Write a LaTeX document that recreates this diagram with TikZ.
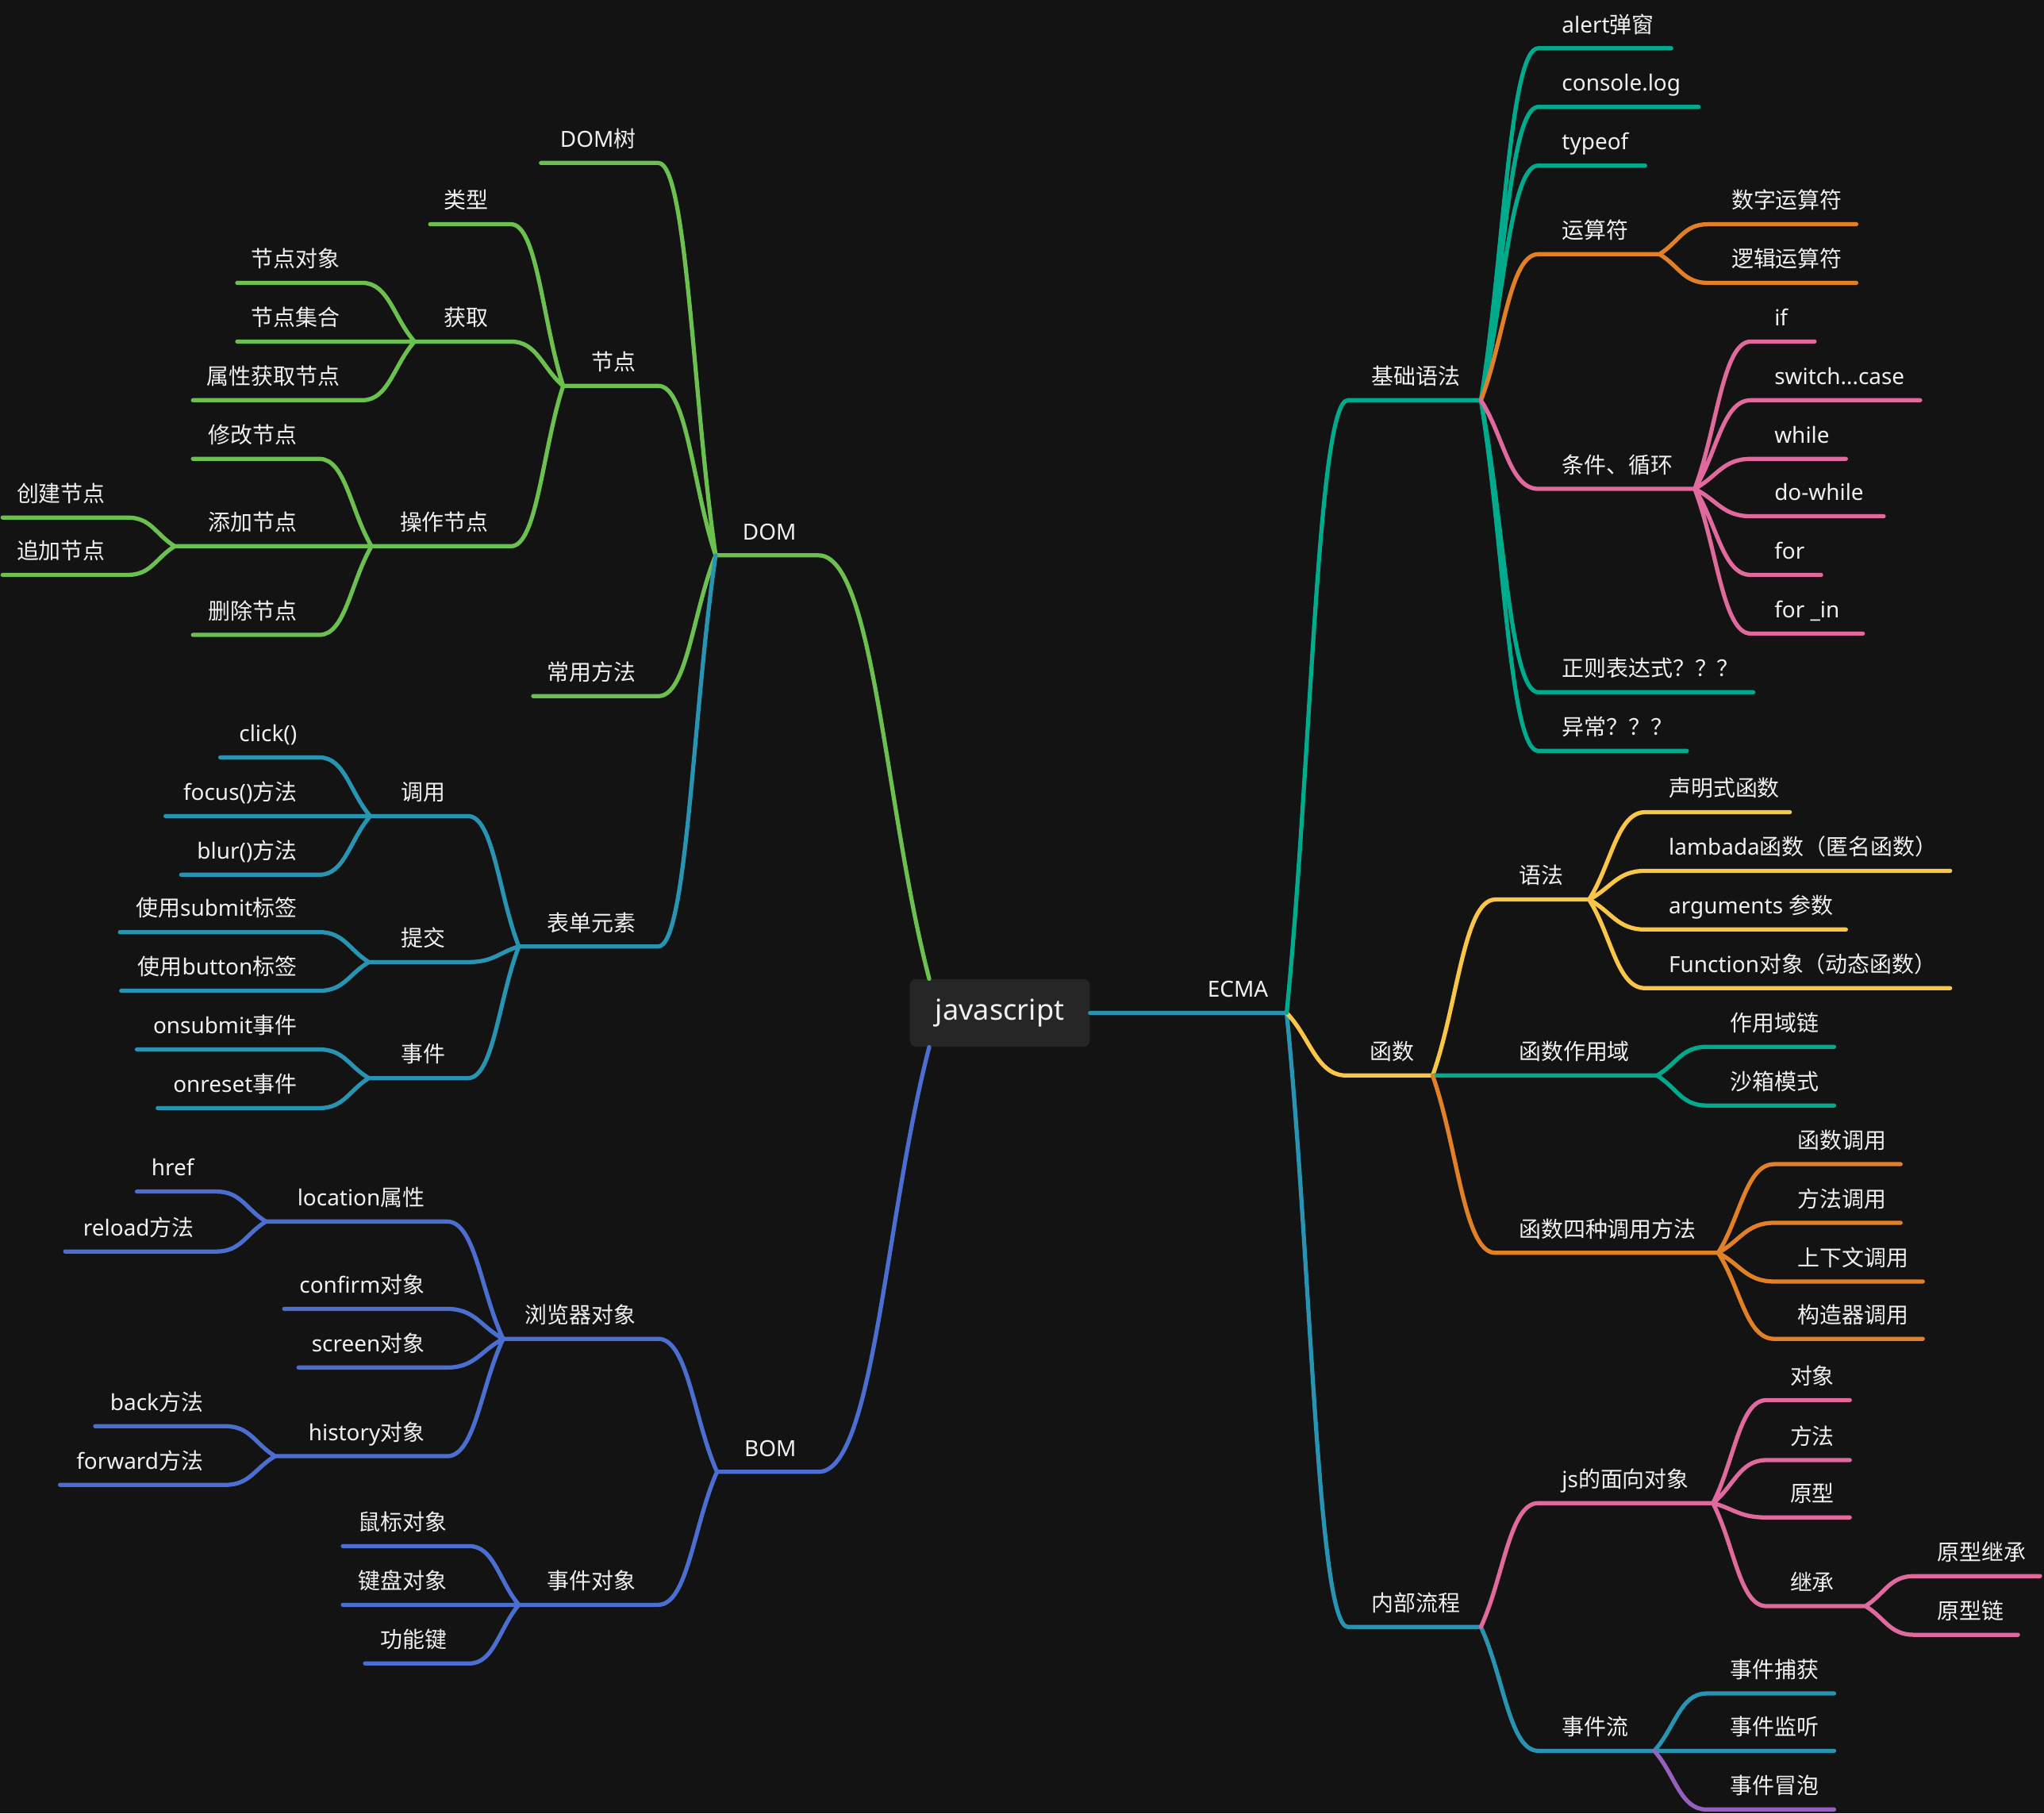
\documentclass[tikz,border=0pt]{standalone}
\usepackage{fontspec}
\setmainfont{Noto Sans}
\newfontfamily\cjkfont{Noto Sans CJK SC}
\usetikzlibrary{calc}

% Chinese characters switch to the CJK font on their own
\newXeTeXintercharclass\cjkclass
\newcount\cjkcode
\newcommand\cjkrange[2]{\cjkcode=#1
  \loop\XeTeXcharclass\cjkcode=\cjkclass
  \ifnum\cjkcode<#2 \advance\cjkcode by 1 \repeat}
\cjkrange{"3000}{"303F}
\cjkrange{"4E00}{"9FFF}
\cjkrange{"FF00}{"FFEF}
\XeTeXinterchartokenstate=1
\XeTeXinterchartoks 0 \cjkclass = {\cjkfont}
\XeTeXinterchartoks 4095 \cjkclass = {\cjkfont}
\XeTeXinterchartoks \cjkclass 0 = {\rmfamily}

\definecolor{bgdark}{RGB}{19,19,19}
\definecolor{rootfill}{RGB}{38,38,38}
\definecolor{labelwhite}{RGB}{240,240,240}
\definecolor{domgreen}{RGB}{108,192,80}
\definecolor{seablue}{RGB}{40,148,178}
\definecolor{bomblue}{RGB}{76,110,208}
\definecolor{basicteal}{RGB}{0,170,140}
\definecolor{oporange}{RGB}{226,128,40}
\definecolor{condpink}{RGB}{224,106,158}
\definecolor{funcyellow}{RGB}{250,198,72}
\definecolor{bubblepurple}{RGB}{150,96,190}

% topic left of the root: name, left end, right end, y, text
\newcommand\ltopic[5]{%
  \coordinate (#1-l) at (#2,#4);
  \coordinate (#1-r) at (#3,#4);
  \node[topic, anchor=base east] (#1) at ($(#1-r)+(-17,-12)$) {#5};}
% topic right of the root
\newcommand\rtopic[5]{%
  \coordinate (#1-l) at (#2,#4);
  \coordinate (#1-r) at (#3,#4);
  \node[topic, anchor=base west] (#1) at ($(#1-l)+(18,-12)$) {#5};}

\begin{document}
\begin{tikzpicture}[
  x=1pt, y=-1pt,
  line cap=round,
  line join=round,
  stem/.style={line width=3.2pt},
  mapcurve/.style={to path={.. controls ($(\tikztostart)!0.4!(\tikztotarget)$)
      and ($(\tikztotarget)!0.5!(\tikztostart |- \tikztotarget)$) .. (\tikztotarget)}},
  topic/.style={inner sep=0pt, text=labelwhite, font=\fontsize{17}{20}\selectfont},
  rootbox/.style={fill=rootfill, rounded corners=5pt, minimum width=138pt,
    minimum height=52pt, text=labelwhite, font=\fontsize{22}{26}\selectfont}
]
  \useasboundingbox (0,0) rectangle (1568,1391);
  \fill[bgdark] (0,0) rectangle (1568,1391);

  \node[rootbox] (js) at (767,777) {javascript};
  \coordinate (js-dom) at ($(js.north west)+(15,0)$);
  \coordinate (js-bom) at ($(js.south west)+(15,0)$);

  % DOM
  \ltopic{dom}{549}{628}{426}{DOM}
  \ltopic{domtree}{415}{505}{125}{DOM树}
  \ltopic{jiedian}{432}{505}{296}{节点}
  \ltopic{leixing}{330}{392}{172}{类型}
  \ltopic{huoqu}{318}{392}{262}{获取}
  \ltopic{jddx}{182}{278}{217}{节点对象}
  \ltopic{jdjh}{182}{278}{262}{节点集合}
  \ltopic{sxhq}{148}{278}{307}{属性获取节点}
  \ltopic{caozuo}{285}{392}{419}{操作节点}
  \ltopic{xiugai}{148}{245}{352}{修改节点}
  \ltopic{tianjia}{134}{245}{419}{添加节点}
  \ltopic{chuangjian}{2}{98}{397}{创建节点}
  \ltopic{zhuijia}{2}{98}{441}{追加节点}
  \ltopic{shanchu}{148}{245}{487}{删除节点}
  \ltopic{changyong}{409}{505}{534}{常用方法}
  \ltopic{biaodan}{398}{505}{726}{表单元素}
  \ltopic{diaoyong}{284}{359}{626}{调用}
  \ltopic{click}{169}{245}{581}{click()}
  \ltopic{focus}{127}{245}{626}{focus()方法}
  \ltopic{blur}{139}{245}{671}{blur()方法}
  \ltopic{tijiao}{283}{359}{738}{提交}
  \ltopic{submit}{92}{245}{715}{使用submit标签}
  \ltopic{button}{93}{245}{760}{使用button标签}
  \ltopic{shijian}{283}{359}{827}{事件}
  \ltopic{onsubmit}{105}{245}{805}{onsubmit事件}
  \ltopic{onreset}{121}{245}{850}{onreset事件}

  % BOM
  \ltopic{bom}{550}{628}{1129}{BOM}
  \ltopic{liulanqi}{386}{505}{1027}{浏览器对象}
  \ltopic{location}{204}{343}{937}{location属性}
  \ltopic{href}{105}{166}{914}{href}
  \ltopic{reload}{50}{166}{960}{reload方法}
  \ltopic{confirm}{218}{343}{1004}{confirm对象}
  \ltopic{screen}{229}{343}{1049}{screen对象}
  \ltopic{history}{211}{343}{1117}{history对象}
  \ltopic{back}{73}{173}{1094}{back方法}
  \ltopic{forward}{46}{173}{1139}{forward方法}
  \ltopic{shijianobj}{398}{505}{1231}{事件对象}
  \ltopic{shubiao}{263}{360}{1186}{鼠标对象}
  \ltopic{jianpan}{263}{360}{1231}{键盘对象}
  \ltopic{gongneng}{280}{360}{1276}{功能键}

  % ECMA
  \coordinate (ecma-r) at (987,777);
  \node[topic, anchor=base east] (ecma) at ($(ecma-r)+(-14,-12)$) {ECMA};
  \rtopic{jichu}{1034}{1136}{307}{基础语法}
  \rtopic{alert}{1180}{1282}{37}{alert弹窗}
  \rtopic{console}{1180}{1303}{82}{console.log}
  \rtopic{typeof}{1180}{1262}{127}{typeof}
  \rtopic{yunsuan}{1180}{1273}{195}{运算符}
  \rtopic{shuzi}{1310}{1424}{172}{数字运算符}
  \rtopic{luoji}{1310}{1424}{217}{逻辑运算符}
  \rtopic{tiaojian}{1180}{1300}{375}{条件、循环}
  \rtopic{ifst}{1343}{1392}{262}{if}
  \rtopic{switchst}{1343}{1473}{307}{switch...case}
  \rtopic{whilest}{1343}{1416}{352}{while}
  \rtopic{dowhilest}{1343}{1445}{396}{do-while}
  \rtopic{forst}{1343}{1397}{441}{for}
  \rtopic{forinst}{1343}{1429}{486}{for \_in}
  \rtopic{zhengze}{1180}{1345}{531}{正则表达式？？？}
  \rtopic{yichang}{1180}{1294}{576}{异常？？？}
  \rtopic{hanshu}{1033}{1099}{825}{函数}
  \rtopic{yufa}{1147}{1219}{690}{语法}
  \rtopic{shengming}{1262}{1373}{623}{声明式函数}
  \rtopic{lambada}{1262}{1496}{668}{lambada函数（匿名函数）}
  \rtopic{arguments}{1262}{1416}{713}{arguments 参数}
  \rtopic{function}{1262}{1496}{758}{Function对象（动态函数）}
  \rtopic{zuoyongyu}{1147}{1271}{825}{函数作用域}
  \rtopic{zyylian}{1309}{1407}{803}{作用域链}
  \rtopic{shaxiang}{1309}{1407}{848}{沙箱模式}
  \rtopic{sizhong}{1147}{1318}{961}{函数四种调用方法}
  \rtopic{hsdy}{1361}{1458}{893}{函数调用}
  \rtopic{ffdy}{1361}{1458}{938}{方法调用}
  \rtopic{sxwdy}{1361}{1475}{983}{上下文调用}
  \rtopic{gzqdy}{1361}{1475}{1027}{构造器调用}
  \rtopic{neibu}{1034}{1136}{1248}{内部流程}
  \rtopic{mianxiang}{1180}{1314}{1153}{js的面向对象}
  \rtopic{duixiang}{1355}{1419}{1074}{对象}
  \rtopic{fangfa}{1355}{1419}{1120}{方法}
  \rtopic{yuanxing}{1355}{1419}{1164}{原型}
  \rtopic{jicheng}{1355}{1431}{1232}{继承}
  \rtopic{yxjc}{1468}{1565}{1209}{原型继承}
  \rtopic{yxl}{1468}{1548}{1254}{原型链}
  \rtopic{shijianliu}{1180}{1269}{1343}{事件流}
  \rtopic{buhuo}{1309}{1407}{1299}{事件捕获}
  \rtopic{jianting}{1309}{1407}{1343}{事件监听}
  \rtopic{maopao}{1309}{1407}{1388}{事件冒泡}

  % left branches
  \draw[stem, domgreen]
    (js-dom) to[mapcurve] (dom-r) -- (dom-l)
    (dom-l) to[mapcurve] (domtree-r) -- (domtree-l)
    (dom-l) to[mapcurve] (jiedian-r) -- (jiedian-l)
    (dom-l) to[mapcurve] (changyong-r) -- (changyong-l)
    (jiedian-l) to[mapcurve] (leixing-r) -- (leixing-l)
    (jiedian-l) to[mapcurve] (huoqu-r) -- (huoqu-l)
    (jiedian-l) to[mapcurve] (caozuo-r) -- (caozuo-l)
    (huoqu-l) to[mapcurve] (jddx-r) -- (jddx-l)
    (huoqu-l) to[mapcurve] (jdjh-r) -- (jdjh-l)
    (huoqu-l) to[mapcurve] (sxhq-r) -- (sxhq-l)
    (caozuo-l) to[mapcurve] (xiugai-r) -- (xiugai-l)
    (caozuo-l) to[mapcurve] (tianjia-r) -- (tianjia-l)
    (caozuo-l) to[mapcurve] (shanchu-r) -- (shanchu-l)
    (tianjia-l) to[mapcurve] (chuangjian-r) -- (chuangjian-l)
    (tianjia-l) to[mapcurve] (zhuijia-r) -- (zhuijia-l);
  \draw[stem, seablue]
    (dom-l) to[mapcurve] (biaodan-r) -- (biaodan-l)
    (biaodan-l) to[mapcurve] (diaoyong-r) -- (diaoyong-l)
    (biaodan-l) to[mapcurve] (tijiao-r) -- (tijiao-l)
    (biaodan-l) to[mapcurve] (shijian-r) -- (shijian-l)
    (diaoyong-l) to[mapcurve] (click-r) -- (click-l)
    (diaoyong-l) to[mapcurve] (focus-r) -- (focus-l)
    (diaoyong-l) to[mapcurve] (blur-r) -- (blur-l)
    (tijiao-l) to[mapcurve] (submit-r) -- (submit-l)
    (tijiao-l) to[mapcurve] (button-r) -- (button-l)
    (shijian-l) to[mapcurve] (onsubmit-r) -- (onsubmit-l)
    (shijian-l) to[mapcurve] (onreset-r) -- (onreset-l);
  \draw[stem, bomblue]
    (js-bom) to[mapcurve] (bom-r) -- (bom-l)
    (bom-l) to[mapcurve] (liulanqi-r) -- (liulanqi-l)
    (bom-l) to[mapcurve] (shijianobj-r) -- (shijianobj-l)
    (liulanqi-l) to[mapcurve] (location-r) -- (location-l)
    (liulanqi-l) to[mapcurve] (confirm-r) -- (confirm-l)
    (liulanqi-l) to[mapcurve] (screen-r) -- (screen-l)
    (liulanqi-l) to[mapcurve] (history-r) -- (history-l)
    (location-l) to[mapcurve] (href-r) -- (href-l)
    (location-l) to[mapcurve] (reload-r) -- (reload-l)
    (history-l) to[mapcurve] (back-r) -- (back-l)
    (history-l) to[mapcurve] (forward-r) -- (forward-l)
    (shijianobj-l) to[mapcurve] (shubiao-r) -- (shubiao-l)
    (shijianobj-l) to[mapcurve] (jianpan-r) -- (jianpan-l)
    (shijianobj-l) to[mapcurve] (gongneng-r) -- (gongneng-l);

  % right branches
  \draw[stem, seablue]
    (js.east) -- (ecma-r)
    (ecma-r) to[mapcurve] (neibu-l) -- (neibu-r)
    (neibu-r) to[mapcurve] (shijianliu-l) -- (shijianliu-r)
    (shijianliu-r) to[mapcurve] (buhuo-l) -- (buhuo-r)
    (shijianliu-r) to[mapcurve] (jianting-l) -- (jianting-r);
  \draw[stem, bubblepurple]
    (shijianliu-r) to[mapcurve] (maopao-l) -- (maopao-r);
  \draw[stem, funcyellow]
    (ecma-r) to[mapcurve] (hanshu-l) -- (hanshu-r)
    (hanshu-r) to[mapcurve] (yufa-l) -- (yufa-r)
    (yufa-r) to[mapcurve] (shengming-l) -- (shengming-r)
    (yufa-r) to[mapcurve] (lambada-l) -- (lambada-r)
    (yufa-r) to[mapcurve] (arguments-l) -- (arguments-r)
    (yufa-r) to[mapcurve] (function-l) -- (function-r);
  \draw[stem, basicteal]
    (ecma-r) to[mapcurve] (jichu-l) -- (jichu-r)
    (jichu-r) to[mapcurve] (alert-l) -- (alert-r)
    (jichu-r) to[mapcurve] (console-l) -- (console-r)
    (jichu-r) to[mapcurve] (typeof-l) -- (typeof-r)
    (jichu-r) to[mapcurve] (zhengze-l) -- (zhengze-r)
    (jichu-r) to[mapcurve] (yichang-l) -- (yichang-r)
    (hanshu-r) to[mapcurve] (zuoyongyu-l) -- (zuoyongyu-r)
    (zuoyongyu-r) to[mapcurve] (zyylian-l) -- (zyylian-r)
    (zuoyongyu-r) to[mapcurve] (shaxiang-l) -- (shaxiang-r);
  \draw[stem, oporange]
    (jichu-r) to[mapcurve] (yunsuan-l) -- (yunsuan-r)
    (yunsuan-r) to[mapcurve] (shuzi-l) -- (shuzi-r)
    (yunsuan-r) to[mapcurve] (luoji-l) -- (luoji-r)
    (hanshu-r) to[mapcurve] (sizhong-l) -- (sizhong-r)
    (sizhong-r) to[mapcurve] (hsdy-l) -- (hsdy-r)
    (sizhong-r) to[mapcurve] (ffdy-l) -- (ffdy-r)
    (sizhong-r) to[mapcurve] (sxwdy-l) -- (sxwdy-r)
    (sizhong-r) to[mapcurve] (gzqdy-l) -- (gzqdy-r);
  \draw[stem, condpink]
    (jichu-r) to[mapcurve] (tiaojian-l) -- (tiaojian-r)
    (tiaojian-r) to[mapcurve] (ifst-l) -- (ifst-r)
    (tiaojian-r) to[mapcurve] (switchst-l) -- (switchst-r)
    (tiaojian-r) to[mapcurve] (whilest-l) -- (whilest-r)
    (tiaojian-r) to[mapcurve] (dowhilest-l) -- (dowhilest-r)
    (tiaojian-r) to[mapcurve] (forst-l) -- (forst-r)
    (tiaojian-r) to[mapcurve] (forinst-l) -- (forinst-r)
    (neibu-r) to[mapcurve] (mianxiang-l) -- (mianxiang-r)
    (mianxiang-r) to[mapcurve] (duixiang-l) -- (duixiang-r)
    (mianxiang-r) to[mapcurve] (fangfa-l) -- (fangfa-r)
    (mianxiang-r) to[mapcurve] (yuanxing-l) -- (yuanxing-r)
    (mianxiang-r) to[mapcurve] (jicheng-l) -- (jicheng-r)
    (jicheng-r) to[mapcurve] (yxjc-l) -- (yxjc-r)
    (jicheng-r) to[mapcurve] (yxl-l) -- (yxl-r);
\end{tikzpicture}
\end{document}
